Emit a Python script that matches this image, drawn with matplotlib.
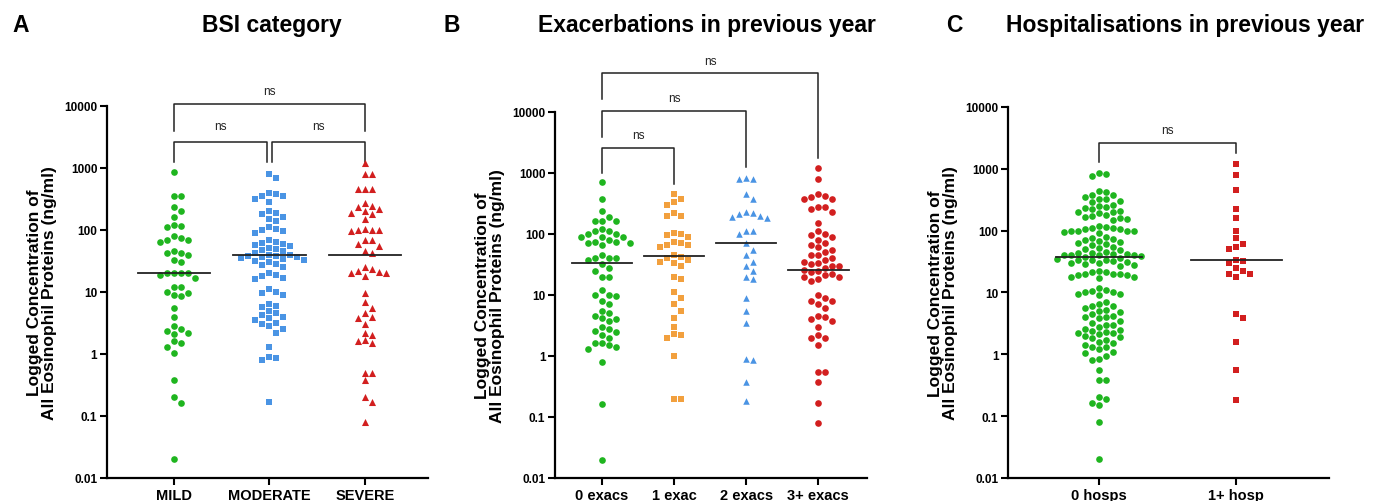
import numpy as np
import matplotlib
matplotlib.use("Agg")
import matplotlib.pyplot as plt

plt.rcParams["font.family"] = ["Liberation Sans", "DejaVu Sans"]

# ---- datos (ng/ml) ----
bsi_cats = ["MILD", "MODERATE", "SEVERE"]
bsi_mild = [870, 350, 350, 230, 200, 160, 120, 115, 110, 80, 75, 70, 68, 65, 45, 42, 42, 40,
            33, 30, 20, 20, 20, 20, 19, 17, 12, 12, 10, 9.5, 9, 8.5, 5.5, 4, 2.8, 2.5, 2.3,
            2.2, 2.1, 1.6, 1.5, 1.3, 1.05, 0.38, 0.2, 0.16, 0.02]
bsi_moderate = [800, 700, 400, 380, 350, 350, 320, 280, 200, 190, 180, 160, 150, 140, 110, 105,
                100, 95, 90, 70, 65, 62, 60, 58, 55, 52, 50, 48, 45, 42, 40, 40, 38, 38, 37, 36,
                35, 34, 33, 32, 30, 28, 27, 25, 20, 19, 18, 17, 16, 11, 10, 9.5, 9, 6.5, 6, 5.8,
                5, 4.5, 4.2, 4, 3.8, 3.5, 3.2, 3, 2.8, 2.5, 2.2, 1.3, 0.9, 0.85, 0.8, 0.17]
bsi_severe = [1200, 800, 800, 450, 450, 450, 270, 240, 230, 220, 200, 190, 180, 150, 105, 100,
              100, 100, 95, 70, 70, 60, 55, 45, 42, 25, 23, 22, 21, 20, 20, 18, 9.5, 7, 5.5, 4.5,
              4, 3.8, 3, 2.2, 2, 1.7, 1.6, 1.5, 0.5, 0.5, 0.38, 0.2, 0.17, 0.08]
bsi_medians = [20, 40, 40]

exac_cats = ["0 exacs", "1 exac", "2 exacs", "3+ exacs"]
exac_0 = [700, 380, 240, 190, 160, 160, 160, 120, 110, 110, 100, 100, 90, 90, 90, 80, 75, 75,
          70, 70, 65, 45, 40, 40, 40, 38, 32, 28, 25, 20, 20, 12, 10, 10, 9.5, 8, 7, 5.5, 5,
          4.5, 4.2, 4, 3.8, 3, 2.8, 2.6, 2.5, 2.2, 2, 1.6, 1.6, 1.5, 1.4, 1.3, 0.8, 0.16, 0.02]
exac_1 = [450, 380, 330, 300, 220, 200, 200, 105, 100, 95, 90, 75, 70, 65, 65, 60, 45, 42, 40,
          38, 35, 33, 30, 20, 18, 11, 9, 7, 5.5, 4.2, 3, 2.3, 2.2, 2, 1.0, 0.2, 0.2]
exac_2 = [820, 800, 800, 450, 370, 230, 220, 210, 200, 190, 180, 110, 110, 100, 70, 55, 45, 35,
          30, 25, 20, 18, 9, 5.5, 3.5, 0.9, 0.85, 0.38, 0.18]
exac_3 = [1200, 800, 450, 420, 400, 380, 370, 280, 280, 260, 230, 150, 110, 100, 95, 90, 80, 70,
          65, 60, 55, 50, 45, 45, 40, 38, 35, 33, 32, 30, 30, 28, 26, 25, 24, 22, 21, 20, 20,
          18, 17, 10, 9, 8, 8, 7, 6, 4.5, 4.3, 4, 3.8, 3, 2.2, 2, 2, 1.5, 0.55, 0.55, 0.38,
          0.17, 0.08]
exac_medians = [33, 44, 70, 26]

hosp_cats = ["0 hosps", "1+ hosp"]
hosp_0 = [850, 830, 750,
          440, 420, 380, 380, 350, 330, 320, 300, 290, 260,
          250, 240, 230, 220, 210, 200, 200, 190, 180, 170, 165, 160, 155, 150,
          120, 115, 110, 110, 105, 105, 100, 100, 100, 98, 95, 90,
          80, 75, 72, 70, 68, 65, 62, 60, 58, 55, 52, 50, 48, 45, 44, 43, 42, 42, 41, 40, 40,
          40, 39, 38,
          36, 35, 34, 34, 33, 32, 31, 30, 30, 29, 28, 27,
          22, 21, 21, 20, 20, 20, 19, 19, 18, 18, 17,
          12, 11, 10.5, 10, 10, 9.5, 9.5, 9,
          7, 6.5, 6, 6, 5.5, 5.2, 5, 4.8, 4.5, 4.2, 4, 4, 3.8,
          3.5, 3.2, 3, 3, 2.8, 2.6, 2.5, 2.4, 2.3, 2.2, 2.2, 2.1, 2, 1.9, 1.8,
          1.7, 1.6, 1.5, 1.4, 1.3, 1.3, 1.2, 1.1, 1.05,
          0.95, 0.85, 0.8,
          0.55, 0.38, 0.38, 0.2, 0.19, 0.16, 0.15, 0.08, 0.02]
hosp_1 = [1200, 800, 450, 220, 160, 100, 75, 60, 55, 50, 33, 32, 30, 25, 22, 20, 20, 18,
          4.5, 3.9, 1.6, 0.55, 0.18]
hosp_medians = [37, 33]

y_ticks = [0.01, 0.1, 1, 10, 100, 1000, 10000]
y_tick_labels = ["0.01", "0.1", "1", "10", "100", "1000", "10000"]

VERDE = "#1fb51f"
AZUL = "#4a94e4"
ROJO = "#d21f1f"
NARANJA = "#f2a03e"


def offsets_enjambre(ax, xc, valores, d=7.0):
    # columnas tipo GraphPad: cada punto va a la primera columna libre
    pix = ax.transData.transform(np.column_stack([np.full(len(valores), xc), valores]))
    ys = pix[:, 1]
    orden = np.argsort(-ys)
    columnas = {}
    offs = np.zeros(len(valores))
    for i in orden:
        k = 0
        while True:
            cands = [0] if k == 0 else [k, -k]
            libre = None
            for c in cands:
                if all(abs(ys[i] - yy) >= d * 0.98 for yy in columnas.get(c, [])):
                    libre = c
                    break
            if libre is not None:
                columnas.setdefault(libre, []).append(ys[i])
                offs[i] = libre * d
                break
            k += 1
    # px -> unidades de datos en x
    x0 = ax.transData.transform((0, 1))[0]
    x1 = ax.transData.transform((1, 1))[0]
    return offs / (x1 - x0)


def preparar_eje(ax, cats, xlim):
    ax.set_yscale("log")
    ax.set_ylim(0.01, 10000)
    ax.set_xlim(*xlim)
    ax.set_yticks(y_ticks)
    ax.set_yticklabels(y_tick_labels, fontsize=8.5, fontweight="bold")
    ax.minorticks_off()
    ax.set_xticks(range(len(cats)))
    ax.set_xticklabels(cats, fontsize=10.5, fontweight="bold")
    for lado in ["top", "right"]:
        ax.spines[lado].set_visible(False)
    for lado in ["left", "bottom"]:
        ax.spines[lado].set_linewidth(1.6)
    ax.tick_params(width=1.5, length=5, pad=2)
    ax.set_ylabel("Logged Concentration of\nAll Eosinophil Proteins (ng/ml)",
                  fontsize=12.5, fontweight="bold", labelpad=5, linespacing=1.05)


def dibujar_grupo(ax, xc, valores, color, marcador, s, mediana, ancho):
    offs = offsets_enjambre(ax, xc, valores)
    ax.scatter(xc + offs, valores, color=color, marker=marcador, s=s, linewidths=0, zorder=3)
    ax.plot([xc - ancho, xc + ancho], [mediana, mediana], color="#222222", lw=1.3, zorder=4)


def corchete(ax, x1, x2, yb, yi, yd, ytxt):
    ax.plot([x1, x1, x2, x2], [yi, yb, yb, yd], color="#222222", lw=1.1, clip_on=False)
    ax.text((x1 + x2) / 2, ytxt, "ns", ha="center", va="center", fontsize=8.5, color="#222222")


fig = plt.figure(figsize=(13.81, 5.02), dpi=100)

# ---- A ----
axA = fig.add_axes([0.0775, 0.046, 0.2325, 0.741])
preparar_eje(axA, bsi_cats, (-0.70, 2.66))
for i, (vals, col) in enumerate(zip([bsi_mild, bsi_moderate, bsi_severe], [VERDE, AZUL, ROJO])):
    marc = ["o", "s", "^"][i]
    dibujar_grupo(axA, i, vals, col, marc, [23, 20, 26][i], bsi_medians[i], 0.38)
corchete(axA, 0, 2, 10800, 4000, 4000, 17500)
corchete(axA, 0, 0.97, 2600, 1250, 1250, 4700)
corchete(axA, 1.03, 2, 2600, 1250, 1250, 4700)

# ---- B ----
axB = fig.add_axes([0.402, 0.046, 0.226, 0.729])
preparar_eje(axB, exac_cats, (-0.65, 3.68))
grupos_b = [exac_0, exac_1, exac_2, exac_3]
colores_b = [VERDE, NARANJA, AZUL, ROJO]
marcas_b = ["o", "s", "^", "o"]
tam_b = [23, 20, 22, 23]
for i in range(4):
    dibujar_grupo(axB, i, grupos_b[i], colores_b[i], marcas_b[i], tam_b[i], exac_medians[i], 0.42)
corchete(axB, 0, 3, 43600, 16200, 1780, 69000)
corchete(axB, 0, 2, 10500, 3900, 1260, 17000)
corchete(axB, 0, 1, 2570, 1000, 660, 4200)

# ---- C ----
axC = fig.add_axes([0.730, 0.046, 0.232, 0.739])
preparar_eje(axC, hosp_cats, (-0.66, 1.67))
dibujar_grupo(axC, 0, hosp_0, VERDE, "o", 23, hosp_medians[0], 0.31)
dibujar_grupo(axC, 1, hosp_1, ROJO, "s", 20, hosp_medians[1], 0.33)
corchete(axC, 0, 1, 2630, 1290, 1820, 4200)

# ---- titulos y letras ----
fig.text(0.009, 0.95, "A", fontsize=16.5, fontweight="bold", va="center", ha="left")
fig.text(0.197, 0.95, "BSI category", fontsize=16.5, fontweight="bold", va="center", ha="center")
fig.text(0.321, 0.95, "B", fontsize=16.5, fontweight="bold", va="center", ha="left")
fig.text(0.512, 0.95, "Exacerbations in previous year", fontsize=16.5, fontweight="bold",
         va="center", ha="center")
fig.text(0.685, 0.95, "C", fontsize=16.5, fontweight="bold", va="center", ha="left")
fig.text(0.858, 0.95, "Hospitalisations in previous year", fontsize=16.5, fontweight="bold",
         va="center", ha="center")

fig.savefig("out.png", dpi=100)
